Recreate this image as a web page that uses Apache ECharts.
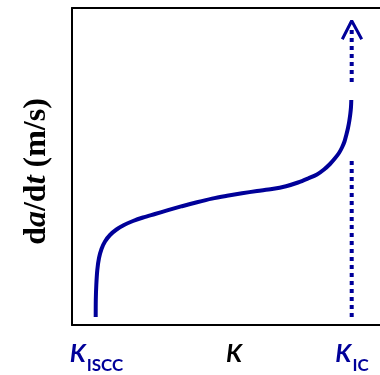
<!DOCTYPE html>
<html>
<head>
<meta charset="utf-8">
<script src="https://cdn.jsdelivr.net/npm/echarts@6/dist/echarts.min.js"></script>
<style>html,body{margin:0;padding:0;background:#fff;overflow:hidden}#c{width:380px;height:375px}</style>
</head>
<body>
<div id="c"></div>
<script>
// crack growth rate curve (arbitrary units)
const curveK = [23.7,23.8,24.3,25.3,27,29.5,33,38,44.5,52,61,71,83,96,110,125,140,155,170,185,200,214,226,236,245,252,258,263,267,270,272.5,274.3,276,277.3,278.3,279,279.3];
const curveV = [8,25,40,55,67,76,83.5,90,95.5,100,104,107.5,111,114.8,118.8,122.8,126.4,129.2,131.7,134,136,138.8,142.5,146.5,150.5,155.5,161,166.7,172,177.5,183.5,190,197,204,211,218,225];
const kicLowerK = [279.7, 279.7];
const kicLowerV = [8, 168];
const kicUpperK = [279.7, 279.7];
const kicUpperV = [243, 299];
const arrowK = [270.3, 279.7, 289.7];
const arrowV = [285.7, 304.3, 285.7];
const tickValues = [24.5, 162, 280];
const tickLabels = ['{kb|K}{sb|ISCC}', '{k|K}', '{kb|K}{sb|IC}'];
const yName = ['d', 'a', '/d', 't', ' (m/s)'];

const blue = '#000099';
const zip = (a, b) => a.map((v, i) => [v, b[i]]);

const chart = echarts.init(document.getElementById('c'), null, {renderer: 'canvas'});
chart.setOption({
  animation: false,
  grid: {left: 72, top: 8, right: 0, bottom: 50, show: false, containLabel: false, outerBoundsMode: 'none'},
  xAxis: [{
    type: 'value', min: 0, max: 308, position: 'bottom',
    axisLine: {show: true, onZero: false, lineStyle: {color: '#000', width: 2}},
    axisTick: {show: false}, splitLine: {show: false},
    axisLabel: {
      customValues: tickValues,
      margin: 16,
      hideOverlap: false,
      formatter: (v) => tickLabels[tickValues.indexOf(v)],
      rich: {
        k: {fontFamily: 'Lato', fontStyle: 'italic', fontWeight: 'bold', fontSize: 25, color: '#000', verticalAlign: 'bottom', padding: [0, 0, 8, 0]},
        kb: {fontFamily: 'Lato', fontStyle: 'italic', fontWeight: 'bold', fontSize: 25, color: blue, verticalAlign: 'bottom', padding: [0, 1, 8, 0]},
        sb: {fontFamily: 'Lato', fontWeight: 'bold', fontSize: 17, color: blue, verticalAlign: 'bottom'}
      }
    }
  }, {
    type: 'value', min: 0, max: 308, position: 'top',
    axisLine: {show: true, onZero: false, lineStyle: {color: '#000', width: 2}},
    axisTick: {show: false}, splitLine: {show: false}, axisLabel: {show: false}
  }],
  yAxis: {
    type: 'value', min: 0, max: 317, position: 'left',
    axisLine: {show: true, onZero: false, lineStyle: {color: '#000', width: 2}},
    axisTick: {show: false}, splitLine: {show: false}, axisLabel: {show: false},
    name: '{r|' + yName[0] + '}{i|' + yName[1] + '}{r|' + yName[2] + '}{i|' + yName[3] + '}{r|' + yName[4] + '}',
    nameLocation: 'middle', nameRotate: 90, nameGap: 19,
    nameTextStyle: {
      padding: [0, 10, 0, 0],
      rich: {
        r: {fontFamily: 'Liberation Serif', fontWeight: 'bold', fontSize: 32, color: '#000'},
        i: {fontFamily: 'Liberation Serif', fontWeight: 'bold', fontStyle: 'italic', fontSize: 32, color: '#000'}
      }
    }
  },
  series: [
    {type: 'line', data: zip(curveK, curveV), showSymbol: false, smooth: 0.3,
     lineStyle: {color: blue, width: 4}},
    {type: 'line', data: zip(kicLowerK, kicLowerV), showSymbol: false,
     lineStyle: {color: blue, width: 4, type: [4, 4]}},
    {type: 'line', data: zip(kicUpperK, kicUpperV), showSymbol: false,
     lineStyle: {color: blue, width: 4, type: [4, 4]}},
    {type: 'line', data: zip(arrowK, arrowV), showSymbol: false,
     lineStyle: {color: blue, width: 3}}
  ]
});
</script>
</body>
</html>
